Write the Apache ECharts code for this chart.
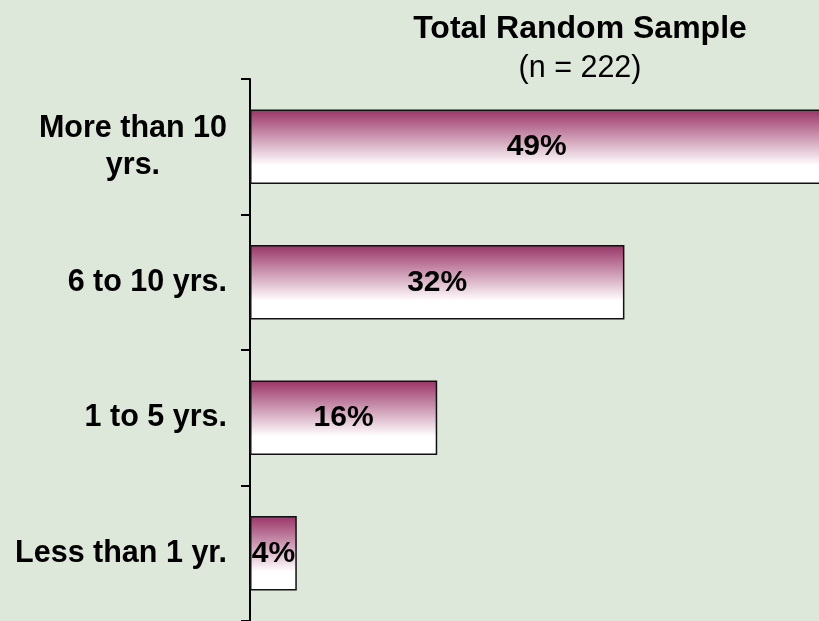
<!DOCTYPE html>
<html>
<head>
<meta charset="utf-8">
<script src="https://cdn.jsdelivr.net/npm/echarts@6/dist/echarts.min.js"></script>
<style>
  html, body { margin: 0; padding: 0; background: #dee8da; }
  #chart { width: 819px; height: 621px; }
</style>
</head>
<body>
<div id="chart"></div>
<script>
// Years category labels (top to bottom) and their shares in percent
const categories = ['More than 10\nyrs.', '6 to 10 yrs.', '1 to 5 yrs.', 'Less than 1 yr.'];
const shares = [49, 32, 16, 4];
const titleText = 'Total Random Sample';
const subtitleText = '(n = 222)';

const FONT = '"Liberation Sans", Arial, sans-serif';

const chart = echarts.init(document.getElementById('chart'));
chart.setOption({
  backgroundColor: '#dee8da',
  animation: false,
  title: {
    text: titleText,
    subtext: subtitleText,
    left: 575,
    top: 8,
    textAlign: 'center',
    itemGap: 8,
    textStyle: { fontFamily: FONT, fontSize: 32, fontWeight: 'bold', color: '#000', lineHeight: 32 },
    subtextStyle: { fontFamily: FONT, fontSize: 30.5, color: '#000', lineHeight: 31 }
  },
  grid: { left: 250, right: 0, top: 79, bottom: -3, containLabel: false },
  xAxis: {
    type: 'value',
    min: 0,
    max: 48.63,
    show: false
  },
  yAxis: {
    type: 'category',
    data: categories,
    inverse: true,
    axisLine: { show: true, lineStyle: { color: '#000', width: 2 } },
    axisTick: { show: true, length: 9, lineStyle: { color: '#000', width: 2 } },
    axisLabel: {
      margin: 23,
      formatter: v => v.split('\n').map(s => '{c|' + s + '}').join('\n'),
      rich: {
        c: { align: 'center', fontFamily: FONT, fontSize: 30.5, fontWeight: 'bold', color: '#000', lineHeight: 37 }
      }
    },
    splitLine: { show: false }
  },
  series: [{
    type: 'bar',
    data: shares,
    clip: false,
    barCategoryGap: '45%',
    itemStyle: {
      borderColor: '#111',
      borderWidth: 1.5,
      color: new echarts.graphic.LinearGradient(0, 0, 0, 1, [
        { offset: 0, color: '#993366' },
        { offset: 0.75, color: '#ffffff' },
        { offset: 1, color: '#ffffff' }
      ])
    },
    label: {
      show: true,
      position: 'inside',
      formatter: '{c}%',
      fontFamily: FONT,
      fontSize: 30,
      fontWeight: 'bold',
      color: '#000'
    }
  }]
});
</script>
</body>
</html>
